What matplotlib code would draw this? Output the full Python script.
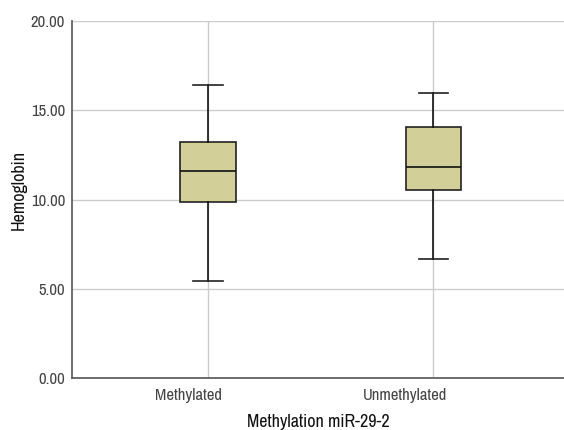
import matplotlib
matplotlib.use("Agg")
import matplotlib.pyplot as plt
import matplotlib.transforms as mtransforms
from matplotlib import font_manager

categories = ["Methylated", "Unmethylated"]
whislo = [5.45, 6.67]
q1 = [9.88, 10.51]
med = [11.60, 11.82]
q3 = [13.20, 14.08]
whishi = [16.41, 15.97]
yticks = [0, 5, 10, 15, 20]

names = {f.name for f in font_manager.fontManager.ttflist}
if "Archivo Narrow" in names:
    plt.rcParams["font.family"] = ["Archivo Narrow", "DejaVu Sans"]
    tsize, lsize = 12, 13
else:
    plt.rcParams["font.family"] = ["DejaVu Sans"]
    plt.rcParams["font.stretch"] = "condensed"
    tsize, lsize = 10.5, 11

fig = plt.figure(figsize=(5.64, 4.30), dpi=100)
ax = fig.add_axes([72/564, 52/430, 1 - 72/564, (378-21)/430])

stats = []
for i, c in enumerate(categories):
    stats.append(dict(label=c, whislo=whislo[i], q1=q1[i], med=med[i],
                      q3=q3[i], whishi=whishi[i], fliers=[]))

ax.bxp(stats, positions=range(len(categories)), widths=0.245, patch_artist=True,
       boxprops=dict(facecolor="#d3cf98", edgecolor="#222222", linewidth=1.2),
       medianprops=dict(color="#111111", linewidth=1.2),
       whiskerprops=dict(color="#111111", linewidth=1.2),
       capprops=dict(color="#222222", linewidth=1.2),
       capwidths=0.13, zorder=3)

ax.set_xlim(-0.604, 1.58)
ax.set_ylim(0, 20)
ax.set_yticks(yticks)
ax.set_yticklabels([f"{v:.2f}" for v in yticks])
ax.set_xticks(range(len(categories)))
ax.set_xticklabels(categories, ha="right")
ax.grid(True, color="#cccccc", linewidth=1.0, zorder=0)
ax.set_axisbelow(True)
for s in ["top", "right"]:
    ax.spines[s].set_visible(False)
for s in ["left", "bottom"]:
    ax.spines[s].set_color("#555555")
    ax.spines[s].set_linewidth(1.2)
ax.tick_params(length=0, labelsize=tsize, labelcolor="#444444", pad=5)
ax.tick_params(axis="x", pad=7)
offset = mtransforms.ScaledTranslation(14/100, 0, fig.dpi_scale_trans)
for tick in ax.xaxis.get_major_ticks():
    tick.label1.set_transform(tick.label1.get_transform() + offset)
ax.set_ylabel("Hemoglobin", fontsize=lsize, color="#111111")
ax.yaxis.set_label_coords(-0.092, 0.527)
ax.set_xlabel("Methylation miR-29-2", fontsize=lsize, color="#111111", labelpad=8)

fig.savefig("out.png", dpi=100)
